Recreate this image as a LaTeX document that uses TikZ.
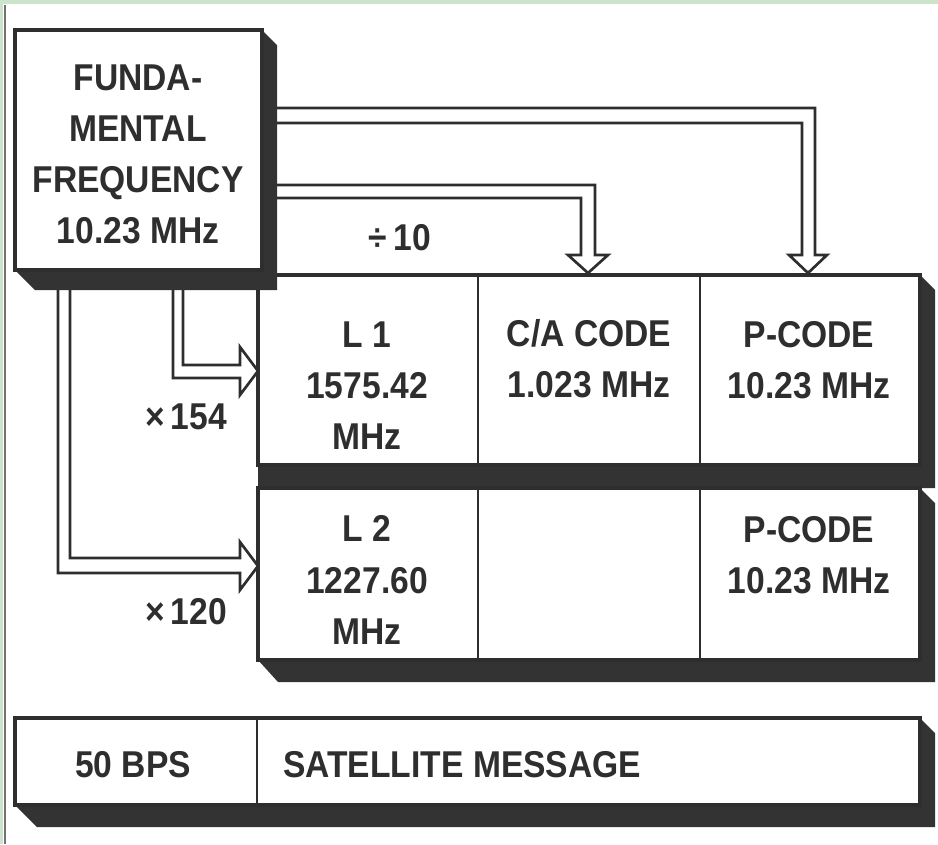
\documentclass[tikz,border=0pt]{standalone}
\usepackage{fontspec}
\newfontfamily\lab[FakeStretch=0.9]{Liberation Sans}
\definecolor{framegreen}{RGB}{204,228,204}
\begin{document}
\begin{tikzpicture}[x=0.75pt,y=-0.75pt,
  ink/.style={draw=black!82},
  boxline/.style={ink,line width=2.3pt,fill=white,line join=miter},
  shadow/.style={fill=black!80,draw=none},
  divider/.style={ink,line width=1.6pt},
  hollow/.style={ink,line width=2pt,fill=white,line join=miter},
  lbl/.style={text=black!82,font=\lab\bfseries\fontsize{28}{38.3}\selectfont,align=center,inner sep=0pt}]
\useasboundingbox (0,0) rectangle (938,844);
\fill[white] (0,0) rectangle (938,844);
% frame
\fill[framegreen] (0,0) rectangle (938,4);
\fill[framegreen] (0,0) rectangle (3,844);
\draw[black!55,line width=1.2pt] (5,5) -- (5,844);

% ---- grid row 1
\fill[shadow] (920,275) -- (935,290) -- (935,488) -- (258,488) -- (258,465) -- cycle;
\draw[boxline] (258,275) rectangle (920,465);
\draw[divider] (478,275) -- (478,465);
\draw[divider] (700,275) -- (700,465);
% ---- grid row 2
\fill[shadow] (920,488) -- (935,503) -- (935,682) -- (278,682) -- (258,660) -- cycle;
\draw[boxline] (258,488) rectangle (920,660);
\draw[divider] (478,488) -- (478,660);
\draw[divider] (700,488) -- (700,660);

% ---- bottom box
\fill[shadow] (920,718) -- (935,733) -- (935,827) -- (37,827) -- (15,805) -- cycle;
\draw[boxline] (15,718) rectangle (920,805);
\draw[divider] (257,718) -- (257,805);

% ---- hollow arrows
\coordinate (aT) at (808,273);
\draw[hollow] (270,108) -- (815,108) -- (815,255) -- (827,255) -- (aT) -- (789,255) -- (802,255) -- (802,123) -- (270,123) -- cycle;
\coordinate (bT) at (588,273);
\draw[hollow] (270,185) -- (595,185) -- (595,255) -- (608,255) -- (bT) -- (568,255) -- (581,255) -- (581,198) -- (270,198) -- cycle;
\coordinate (cT) at (258,371);
\draw[hollow] (173,282) -- (173,378) -- (240,378) -- (240,395) -- (cT) -- (240,347) -- (240,365) -- (183,365) -- (183,282) -- cycle;
\coordinate (dT) at (258,566);
\draw[hollow] (58,282) -- (58,573) -- (240,573) -- (240,590) -- (dT) -- (240,542) -- (240,558) -- (70,558) -- (70,282) -- cycle;

% ---- fundamental box (on top)
\fill[shadow] (262,30) -- (277,45) -- (277,290) -- (35,290) -- (15,270) -- cycle;
\draw[boxline] (15,30) rectangle (262,270);
\node[lbl] (fund) at (138,154) {FUNDA-\\MENTAL\\FREQUENCY\\10.23 MHz};

% ---- labels
\node[lbl] (div) at (400,238) {÷\,10};
\node[lbl] (m154) at (186,417) {×\,154};
\node[lbl] (m120) at (186,612) {×\,120};

\node[lbl] (l1) at (367,386) {L 1\\1575.42\\MHz};
\node[lbl] (ca) at (589,359) {C/A CODE\\1.023 MHz};
\node[lbl] (p1) at (809,360) {P-CODE\\10.23 MHz};
\node[lbl] (l2) at (367,580) {L 2\\1227.60\\MHz};
\node[lbl] (p2) at (809,555) {P-CODE\\10.23 MHz};
\node[lbl] (bps) at (133,765) {50 BPS};
\node[lbl,anchor=west] (msg) at (283,765) {SATELLITE MESSAGE};
\end{tikzpicture}
\end{document}
